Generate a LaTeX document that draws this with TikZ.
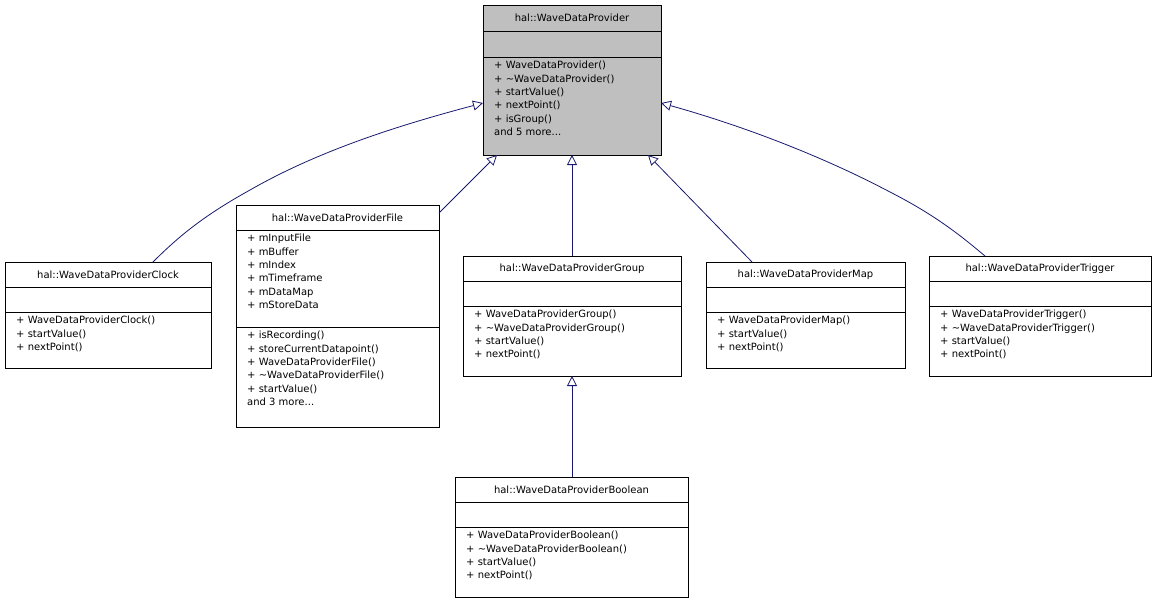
\documentclass[tikz,border=0pt]{standalone}
\usepackage{fontspec}
\setmainfont{DejaVu Sans}
\usetikzlibrary{arrows.meta}
\definecolor{edge}{HTML}{191970}
\begin{document}
\begin{tikzpicture}[x=1pt,y=-1pt,
  box/.style={draw=black,line width=0.8pt},
  txt/.style={anchor=north west,inner sep=0pt,align=left,font=\fontsize{10}{13.3}\selectfont},
  ttl/.style={inner sep=0pt,font=\fontsize{10}{13.3}\selectfont},
  inh/.style={draw=edge,line width=0.8pt,-{Triangle[open,length=10pt,width=10pt]}}]
\useasboundingbox[fill=white] (0,0) rectangle (1157,603);
% Base
\fill[gray!50] (483,5) rectangle (661,155);
\draw[box] (483,5) rectangle (661,155);
\draw[box] (483,31) -- (661,31) (483,57) -- (661,57);
\node[ttl] (baset) at (572,18) {hal::WaveDataProvider};
\node[txt] (basem) at (494,61) {+ WaveDataProvider()\\+ \textasciitilde WaveDataProvider()\\+ startValue()\\+ nextPoint()\\+ isGroup()\\and 5 more...};
\coordinate (base) at (572,155);
% Clock
\draw[box] (5,262) rectangle (211,368);
\draw[box] (5,287) -- (211,287) (5,312) -- (211,312);
\node[ttl] at (108,274.5) {hal::WaveDataProviderClock};
\node[txt] (clock) at (16,316) {+ WaveDataProviderClock()\\+ startValue()\\+ nextPoint()};
% File
\draw[box] (236,205) rectangle (439,427);
\draw[box] (236,230) -- (439,230) (236,327) -- (439,327);
\node[ttl] at (337.5,217.5) {hal::WaveDataProviderFile};
\node[txt] at (247,234) {+ mInputFile\\+ mBuffer\\+ mIndex\\+ mTimeframe\\+ mDataMap\\+ mStoreData};
\node[txt] at (247,331) {+ isRecording()\\+ storeCurrentDatapoint()\\+ WaveDataProviderFile()\\+ \textasciitilde WaveDataProviderFile()\\+ startValue()\\and 3 more...};
% Group
\draw[box] (463,256) rectangle (681,376);
\draw[box] (463,281) -- (681,281) (463,306) -- (681,306);
\node[ttl] at (572,268.5) {hal::WaveDataProviderGroup};
\node[txt] at (474,310) {+ WaveDataProviderGroup()\\+ \textasciitilde WaveDataProviderGroup()\\+ startValue()\\+ nextPoint()};
% Map
\draw[box] (706,262) rectangle (905,368);
\draw[box] (706,287) -- (905,287) (706,312) -- (905,312);
\node[ttl] at (805.5,274.5) {hal::WaveDataProviderMap};
\node[txt] at (717,316) {+ WaveDataProviderMap()\\+ startValue()\\+ nextPoint()};
% Trigger
\draw[box] (929,256) rectangle (1151,376);
\draw[box] (929,281) -- (1151,281) (929,306) -- (1151,306);
\node[ttl] at (1040,268.5) {hal::WaveDataProviderTrigger};
\node[txt] at (940,310) {+ WaveDataProviderTrigger()\\+ \textasciitilde WaveDataProviderTrigger()\\+ startValue()\\+ nextPoint()};
% Boolean
\draw[box] (455,477) rectangle (688,597);
\draw[box] (455,502) -- (688,502) (455,527) -- (688,527);
\node[ttl] at (571.5,489.5) {hal::WaveDataProviderBoolean};
\node[txt] at (466,531) {+ WaveDataProviderBoolean()\\+ \textasciitilde WaveDataProviderBoolean()\\+ startValue()\\+ nextPoint()};
% coordinates
\coordinate (cT) at (153,262); \coordinate (bL) at (483,103);
\coordinate (fT) at (439,213); \coordinate (bF) at (497,155);
\coordinate (gT) at (572,256); \coordinate (bG) at (572,155);
\coordinate (mT) at (752,262); \coordinate (bM) at (648,155);
\coordinate (tT) at (985,256); \coordinate (bR) at (661,103);
\coordinate (oT) at (572,477); \coordinate (gB) at (572,376);
\draw[inh] (cT) .. controls (180,235) and (205,215) .. (250,190) .. controls (320,150) and (400,125) .. (bL);
\draw[inh] (fT) -- (bF);
\draw[inh] (gT) -- (bG);
\draw[inh] (mT) -- (bM);
\draw[inh] (tT) .. controls (960,235) and (935,215) .. (890,192) .. controls (820,155) and (740,125) .. (bR);
\draw[inh] (oT) -- (gB);
\end{tikzpicture}
\end{document}
